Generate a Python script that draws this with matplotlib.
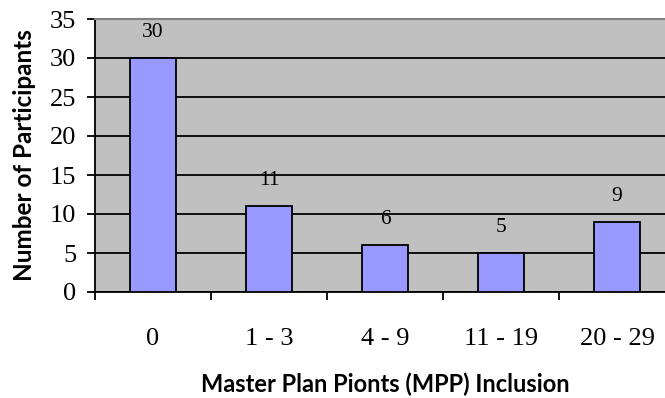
import matplotlib
matplotlib.use("Agg")
import matplotlib.pyplot as plt
import numpy as np

categories = ["0", "1 - 3", "4 - 9", "11 - 19", "20 - 29"]
participants = [30, 11, 6, 5, 9]
y_ticks = [0, 5, 10, 15, 20, 25, 30, 35]

fig = plt.figure(figsize=(6.65, 3.98), dpi=100)
ax = fig.add_axes([95 / 665, 106 / 398, 580 / 665, 273 / 398])
ax.set_facecolor("#C0C0C0")

x = np.arange(len(categories))
bars = ax.bar(x, participants, width=0.4, color="#9999FF",
              edgecolor="black", linewidth=1.3, zorder=3)

for rect, v in zip(bars, participants):
    ax.annotate(str(v), (rect.get_x() + rect.get_width() / 2, v),
                xytext=(0, 18.5), textcoords="offset points",
                ha="center", va="center", fontsize=15.5,
                family="Liberation Serif")

ax.set_xlim(-0.5, len(categories) - 0.5)
ax.set_ylim(0, 35)
ax.set_yticks(y_ticks)
ax.yaxis.grid(True, color="black", linewidth=1.3, zorder=1)
ax.set_axisbelow(True)

ax.set_xticks(np.arange(-0.5, len(categories), 1.0))
ax.set_xticklabels([])
ax.set_xticks(x, minor=True)
ax.set_xticklabels(categories, minor=True)
ax.tick_params(axis="x", which="major", direction="out", length=6,
               width=1.3, color="black")
ax.tick_params(axis="x", which="minor", length=0, pad=26, labelsize=19)
ax.tick_params(axis="y", direction="out", length=5.5, width=1.3,
               labelsize=19, pad=8)
for lab in ax.get_xticklabels(minor=True) + ax.get_yticklabels():
    lab.set_family("Liberation Serif")

ax.spines["left"].set_color("black")
ax.spines["left"].set_linewidth(1.3)
ax.spines["bottom"].set_color("black")
ax.spines["bottom"].set_linewidth(1.3)
ax.spines["top"].set_color("#808080")
ax.spines["top"].set_linewidth(1.5)
ax.spines["right"].set_visible(False)

ax.set_ylabel("Number of Participants", family="Lato", fontweight="bold",
              fontsize=17.5, labelpad=10)
ax.set_xlabel("Master Plan Pionts (MPP) Inclusion", family="Lato",
              fontweight="bold", fontsize=17, labelpad=16)

fig.savefig("out.png", dpi=100)
